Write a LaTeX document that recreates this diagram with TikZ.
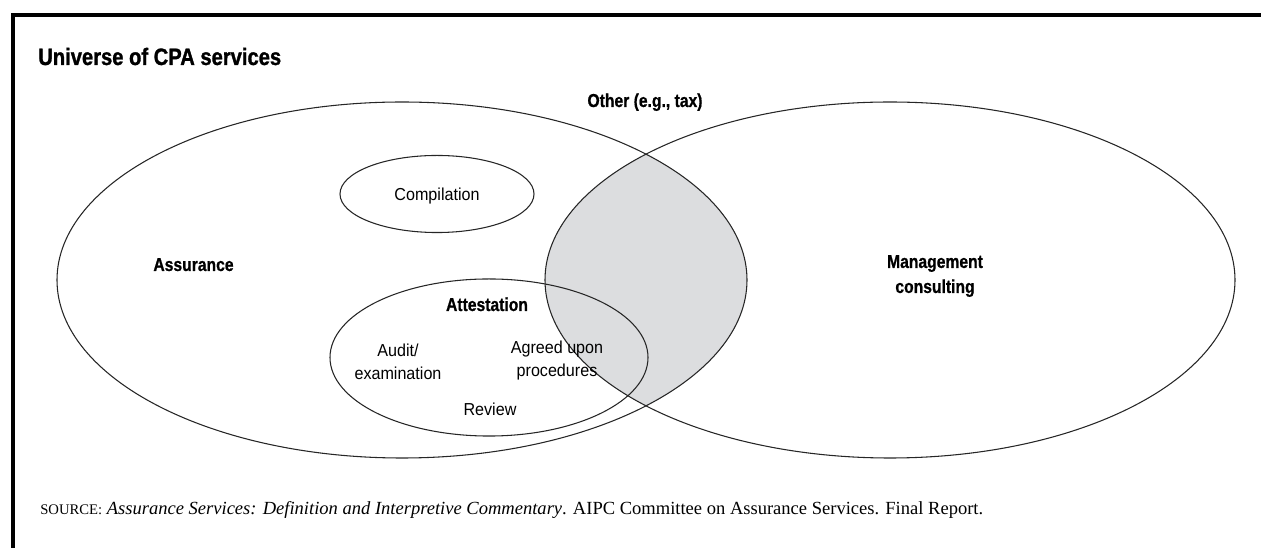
\documentclass[tikz,border=0pt]{standalone}
\usepackage{fontspec}
\setmainfont{Liberation Serif}
\newfontfamily\condsans[FakeStretch=0.84, FakeBold=0.8]{Liberation Sans Bold}
\newfontfamily\titlesans[FakeStretch=0.85, FakeBold=1.2]{Liberation Sans Bold}
\newfontfamily\narrowsans[FakeStretch=0.93]{Liberation Sans}
\definecolor{lensgray}{RGB}{220,221,223}

\tikzset{
  headlbl/.style={font=\condsans\fontsize{14}{18.75}\selectfont, align=center, inner sep=0pt},
  plainlbl/.style={font=\narrowsans\fontsize{13}{17.25}\selectfont, align=center, inner sep=0pt},
  ring/.style={line width=0.8pt, black!85},
  frameline/.style={line width=2.4pt}
}

\begin{document}
\begin{tikzpicture}[x=0.75pt, y=-0.75pt]
\useasboundingbox (0,0) rectangle (1261,548);

% Frame (only top and left edges show)
\draw[frameline] (1265,15) -- (13,15) -- (13,552);

% Title
\node[anchor=base west, inner sep=0pt, font=\titlesans\fontsize{17.8}{20}\selectfont] (title) at (38,65) {Universe of CPA services};

% Shaded overlap of the two big circles
\begin{scope}
  \clip (402,280) ellipse (258.75pt and 133.5pt);
  \fill[lensgray] (890,280) ellipse (258.75pt and 133.5pt);
\end{scope}

% Circles
\draw[ring] (402,280) ellipse (258.75pt and 133.5pt); % Assurance
\draw[ring] (890,280) ellipse (258.75pt and 133.5pt); % Management consulting
\draw[ring] (437,194) ellipse (72.75pt and 28.9pt); % Compilation
\draw[ring] (489,357.5) ellipse (119.25pt and 58.9pt); % Attestation

% Labels
\node[headlbl, anchor=base] (other) at (645,107) {Other (e.g., tax)};
\node[headlbl, anchor=base] (assurance) at (193.5,271) {Assurance};
\node[headlbl] (consulting) at (935,276) {Management\\consulting};
\node[plainlbl] (compilation) at (437,196) {Compilation};
\node[headlbl, anchor=base] (attestation) at (487,311) {Attestation};
\node[plainlbl] (audit) at (398,362) {Audit/\\examination};
\node[plainlbl] (agreed) at (557,361) {Agreed upon\\procedures};
\node[plainlbl, anchor=base] (review) at (490,416) {Review};

% Source line
\node[anchor=base west, inner sep=0pt, font=\fontsize{13.9}{16}\selectfont] (source) at (40,515)
  {{\fontsize{11}{13}\selectfont SOURCE:} \textit{Assurance Services: Definition and Interpretive Commentary}. AIPC Committee on Assurance Services. Final Report.};

\end{tikzpicture}
\end{document}
